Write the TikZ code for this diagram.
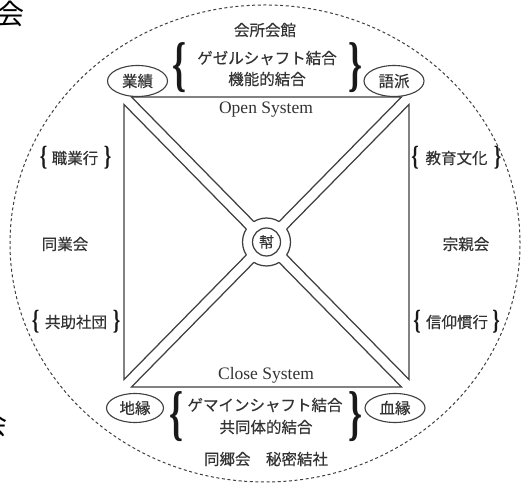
\documentclass[tikz,border=0pt]{standalone}
\usepackage{fontspec}
\usepackage{graphicx}
\setmainfont{Liberation Serif}
\newfontfamily\jp[FakeBold=0.35]{Noto Sans CJK JP}
\newfontfamily\jpbig{Noto Sans CJK JP}
\usetikzlibrary{shapes.geometric}
\definecolor{linecol}{gray}{0.25}
\definecolor{textcol}{gray}{0.2}
\definecolor{bracecol}{gray}{0.1}
\newcommand\myBigL{\resizebox*{14pt}{50pt}{\textbf{\{}}}
\newcommand\myBigR{\resizebox*{14pt}{50pt}{\textbf{\}}}}
\newcommand\mySmL{\resizebox*{7.5pt}{23pt}{\textbf{\{}}}
\newcommand\mySmR{\resizebox*{7.5pt}{23pt}{\textbf{\}}}}
\begin{document}
\begin{tikzpicture}[x=1pt,y=1pt,
  ln/.style={draw=linecol, line width=1.25pt, line join=miter},
  jt/.style={font=\jp\fontsize{15.5}{18}\selectfont, text=textcol, inner sep=0pt},
  bigjp/.style={font=\jpbig\fontsize{28}{30}\selectfont, text=black, inner sep=0pt},
  en/.style={font=\fontsize{17.5}{20}\selectfont, text=textcol, inner sep=0pt, anchor=base},
  oval/.style={draw=linecol, line width=1.1pt, ellipse, inner sep=0pt,
    minimum width=60pt, minimum height=31pt, font=\jp\fontsize{15.5}{18}\selectfont, text=textcol},
  brc/.style={inner sep=0pt, text=bracecol}]
\useasboundingbox (0,0) rectangle (529,492);
\fill[white] (0,0) rectangle (529,492);
% outer dashed ellipse
\draw[draw=linecol, line width=1pt, dash pattern=on 3pt off 2.6pt]
  (265,248.5) ellipse [x radius=255, y radius=238.5];
% square geometry
\def\o{7.5}
\coordinate (C) at (266.5,250);
\coordinate (A1) at (124+\o,395);
\coordinate (A2) at (124,395-\o);
\coordinate (C1) at (409-\o,395);
\coordinate (C2) at (409,395-\o);
\coordinate (D1) at (124+\o,105);
\coordinate (D2) at (124,105+\o);
\coordinate (B1) at (409-\o,105);
\coordinate (B2) at (409,105+\o);
\coordinate (Tt) at (intersection of A1--B2 and C1--D2);
\coordinate (Tr) at (intersection of A1--B2 and C2--D1);
\coordinate (Tb) at (intersection of A2--B1 and C2--D1);
\coordinate (Tl) at (intersection of A2--B1 and C1--D2);
\begin{scope}[even odd rule]
  \clip (0,0) rectangle (529,492) (C) circle [radius=24];
  \draw[ln] (A1) -- (C1) -- (Tt) -- cycle;
  \draw[ln] (C2) -- (B2) -- (Tr) -- cycle;
  \draw[ln] (B1) -- (D1) -- (Tb) -- cycle;
  \draw[ln] (D2) -- (A2) -- (Tl) -- cycle;
\end{scope}
\begin{scope}
  \clip (A1) -- (C1) -- (Tt) -- cycle (C2) -- (B2) -- (Tr) -- cycle
        (B1) -- (D1) -- (Tb) -- cycle (D2) -- (A2) -- (Tl) -- cycle;
  \draw[ln] (C) circle [radius=24];
\end{scope}
\node[ln, circle, minimum size=28pt, inner sep=0pt, font=\jp\fontsize{15}{16}\selectfont, text=textcol] (bang) at (C) {幇};
% top
\node[jt] (kaisho) at (265,462) {会所会館};
\node[jt] (gesell) at (267,434) {ゲゼルシャフト結合};
\node[jt] (kinou) at (267,413) {機能的結合};
\node[brc] (tbl) at (179.5,424.5) {\myBigL};
\node[brc] (tbr) at (355.5,424.5) {\myBigR};
\node[oval] (gyoseki) at (137.5,411) {業績};
\node[oval] (goha) at (394,411) {語派};
\node[en] (open) at (266,378) {Open System};
% bottom
\node[en] (close) at (266,112.5) {Close System};
\node[oval, minimum width=57pt, minimum height=29pt] (chien) at (135,84) {地縁};
\node[oval, minimum width=60pt, minimum height=29pt] (ketsuen) at (395,84) {血縁};
\node[jt] (gemein) at (265,87) {ゲマインシャフト結合};
\node[jt] (kyodo) at (266,65) {共同体的結合};
\node[brc] (bbl) at (176,75) {\myBigL};
\node[brc] (bbr) at (355.5,75) {\myBigR};
\node[jt] (dokyo) at (266,33) {同郷会　秘密結社};
% left
\node[brc] (l1a) at (43.5,334) {\mySmL};
\node[jt] (shoku) at (75,334) {職業行};
\node[brc] (l1b) at (107.5,334) {\mySmR};
\node[jt] (dogyo) at (65,248) {同業会};
\node[brc] (l2a) at (35.5,170) {\mySmL};
\node[jt] (kyojo) at (76,170) {共助社団};
\node[brc] (l2b) at (116.5,170) {\mySmR};
% right
\node[brc] (r1a) at (415,334) {\mySmL};
\node[jt] (kyoiku) at (456.5,334) {教育文化};
\node[brc] (r1b) at (497.5,334) {\mySmR};
\node[jt] (soshin) at (466,248) {宗親会};
\node[brc] (r2a) at (417,170) {\mySmL};
\node[jt] (shinko) at (457,170) {信仰慣行};
\node[brc] (r2b) at (496,170) {\mySmR};
% cut-off characters at left edge
\node[bigjp] (kaiA) at (11,478) {会};
\node[bigjp] (kaiB) at (-6,68) {会};
\end{tikzpicture}
\end{document}
